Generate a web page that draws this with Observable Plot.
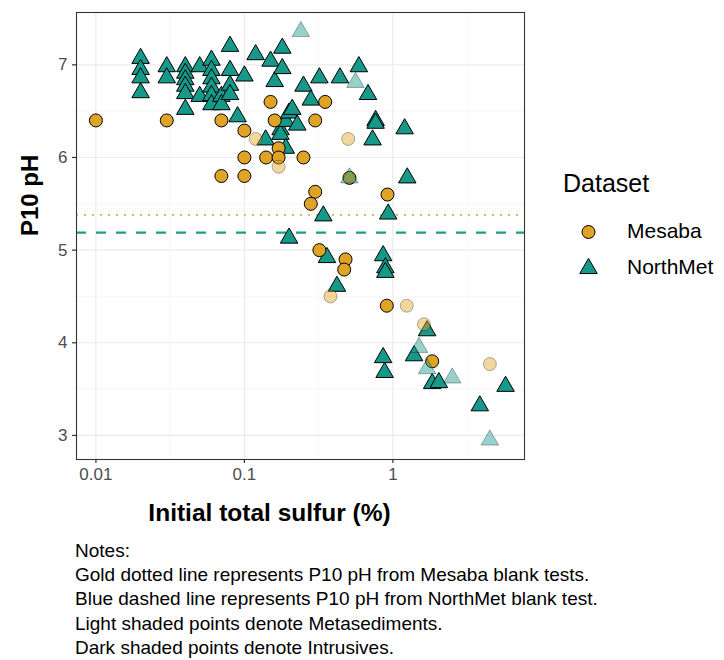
<!DOCTYPE html>
<html>
<head>
<meta charset="utf-8">
<script src="https://cdn.jsdelivr.net/npm/d3@7"></script>
<script src="https://cdn.jsdelivr.net/npm/@observablehq/plot@0.6"></script>
<style>
  html, body { margin: 0; padding: 0; background: #fff; }
  body { font-family: "Liberation Sans", Arial, sans-serif; }
  #wrap { position: relative; width: 724px; height: 660px; overflow: hidden; }
  #chart { position: absolute; left: 0; top: 0; }
  #legend { position: absolute; left: 560px; top: 165px; width: 164px; height: 130px; }
  #notes { position: absolute; left: 75px; top: 539px; font-size: 19px; line-height: 24.2px; color: #000; white-space: nowrap; }
</style>
</head>
<body>
<div id="wrap">
  <div id="chart"></div>
  <div id="legend"></div>
  <div id="notes"></div>
</div>
<script>
// ---- Data ----
const mesabaSulfur = [0.01, 0.03, 0.07, 0.10, 0.15, 0.16, 0.30, 0.35, 0.119, 0.17, 0.10, 0.14, 0.17, 0.25, 0.17, 0.07, 0.10, 0.50, 0.30, 0.28, 0.92, 0.51, 0.32, 0.48, 0.47, 0.38, 0.91, 1.24, 1.62, 1.84, 4.50];
const mesabaPH     = [6.40, 6.40, 6.40, 6.29, 6.60, 6.40, 6.40, 6.60, 6.20, 6.10, 6.00, 6.00, 6.00, 6.00, 5.90, 5.80, 5.80, 6.20, 5.63, 5.50, 5.60, 5.78, 5.00, 4.90, 4.79, 4.50, 4.40, 4.40, 4.20, 3.80, 3.77];
const mesabaRock   = ["I","I","I","I","I","I","I","I","M","I","I","I","I","I","M","I","I","M","I","I","I","I","I","I","I","M","I","M","M","I","M"];

const northSulfur = [0.02, 0.02, 0.02, 0.02, 0.03, 0.03, 0.04, 0.04, 0.04, 0.04, 0.04, 0.04, 0.05, 0.05,
  0.06, 0.06, 0.06, 0.06, 0.06, 0.06, 0.07, 0.07, 0.08, 0.08, 0.08, 0.08, 0.09, 0.10, 0.119, 0.139, 0.15, 0.16,
  0.175, 0.175, 0.18, 0.18, 0.19, 0.19, 0.20, 0.20, 0.21, 0.227, 0.24, 0.25, 0.28, 0.32, 0.34, 0.36, 0.42, 0.44,
  0.51, 0.56, 0.59, 0.68, 0.73, 0.765, 0.765, 0.86, 0.86, 0.89, 0.89, 0.88, 0.93, 1.2, 1.25, 1.39, 1.5, 1.7, 1.7,
  1.84, 2.04, 2.51, 3.85, 4.5, 5.74];
const northPH = [7.07, 6.95, 6.86, 6.70, 6.98, 6.86, 6.98, 6.91, 6.84, 6.77, 6.69, 6.52, 6.98, 6.66,
  7.05, 6.94, 6.85, 6.76, 6.67, 6.57, 6.66, 6.57, 7.20, 6.94, 6.78, 6.68, 6.44, 6.88, 7.11, 6.19, 7.04, 6.82,
  6.30, 6.25, 7.18, 6.96, 6.39, 6.10, 6.48, 5.13, 6.52, 6.35, 7.36, 6.77, 6.62, 6.86, 5.37, 4.92, 4.61, 6.86,
  5.78, 6.81, 6.98, 6.68, 6.19, 6.40, 6.37, 4.94, 3.84, 4.81, 4.76, 3.68, 5.39, 6.31, 5.78, 3.86, 3.95, 4.13, 3.72,
  3.56, 3.57, 3.62, 3.32, 2.95, 3.53];
const northRock = ["I","I","I","I","I","I","I","I","I","I","I","I","I","I",
  "I","I","I","I","I","I","I","I","I","I","I","I","I","I","I","I","I","I",
  "I","I","I","I","I","I","I","I","I","I","M","I","I","I","I","I","I","I",
  "M","M","I","I","I","I","I","I","I","I","I","I","I","I","I","I","M","I","M",
  "I","I","M","I","M","I"];

const mesabaBlankPH = 5.38;
const northBlankPH = 5.19;

const xTicks = [0.01, 0.1, 1];
const xTickLabels = ["0.01", "0.1", "1"];
const xMinor = [0.0316, 0.316, 3.16];
const yTicks = [3, 4, 5, 6, 7];
const yTickLabels = ["3", "4", "5", "6", "7"];
const yMinor = [3.5, 4.5, 5.5, 6.5];

const datasetNames = ["Mesaba", "NorthMet"];
const xTitle = "Initial total sulfur (%)";
const yTitle = "P10 pH";
const legendTitle = "Dataset";
const notes = [
  "Notes:",
  "Gold dotted line represents P10 pH from Mesaba blank tests.",
  "Blue dashed line represents P10 pH from NorthMet blank test.",
  "Light shaded points denote Metasediments.",
  "Dark shaded points denote Intrusives."
];

// ---- Styles ----
const GOLD = "#DFA426";
const TEAL = "#17998A";
const GOLD_LINE = "#D9B444";
const TEAL_LINE = "#1E9E86";
const R = 6.5;

const rows = [];
mesabaSulfur.forEach((s, i) => rows.push({dataset: "Mesaba", s, ph: mesabaPH[i], rock: mesabaRock[i]}));
northSulfur.forEach((s, i) => rows.push({dataset: "NorthMet", s, ph: northPH[i], rock: northRock[i]}));
const pick = (ds, rock) => rows.filter(d => d.dataset === ds && d.rock === rock);

const plot = Plot.plot({
  width: 724,
  height: 530,
  marginLeft: 76,
  marginRight: 200,
  marginTop: 12,
  marginBottom: 71,
  style: {fontFamily: "'Liberation Sans', Arial, sans-serif", background: "#fff"},
  x: {type: "log", domain: [0.0074, 7.7]},
  y: {domain: [2.74, 7.565]},
  marks: [
    Plot.ruleX(xMinor, {stroke: "#f3f3f3", strokeWidth: 0.7}),
    Plot.ruleY(yMinor, {stroke: "#f3f3f3", strokeWidth: 0.7}),
    Plot.ruleX(xTicks, {stroke: "#ebebeb", strokeWidth: 1.2}),
    Plot.ruleY(yTicks, {stroke: "#ebebeb", strokeWidth: 1.2}),
    Plot.ruleY([mesabaBlankPH], {stroke: GOLD_LINE, strokeWidth: 1.8, strokeDasharray: "2,6"}),
    Plot.ruleY([northBlankPH], {stroke: TEAL_LINE, strokeWidth: 2.2, strokeDasharray: "10,10"}),
    Plot.dot(pick("NorthMet", "I"), {x: "s", y: "ph", symbol: "triangle", r: R, fill: TEAL, stroke: "#000", strokeWidth: 1}),
    Plot.dot(pick("Mesaba", "I"), {x: "s", y: "ph", symbol: "circle", r: R, fill: GOLD, stroke: "#000", strokeWidth: 1}),
    Plot.dot(pick("Mesaba", "M"), {x: "s", y: "ph", symbol: "circle", r: R, fill: GOLD, fillOpacity: 0.45, stroke: "#000", strokeOpacity: 0.3, strokeWidth: 1}),
    Plot.dot(pick("NorthMet", "M"), {x: "s", y: "ph", symbol: "triangle", r: R, fill: TEAL, fillOpacity: 0.45, stroke: "#000", strokeOpacity: 0.3, strokeWidth: 1}),
    Plot.frame({stroke: "#333", strokeWidth: 1.1}),
    Plot.axisX({ticks: xTicks, tickFormat: d => xTickLabels[xTicks.indexOf(d)], tickSize: 4, tickPadding: 4, fontSize: 17, fill: "#4d4d4d", stroke: "#333", strokeWidth: 1.2, label: null}),
    Plot.axisY({ticks: yTicks, tickFormat: d => yTickLabels[yTicks.indexOf(d)], tickSize: 4, tickPadding: 5, fontSize: 17, fill: "#4d4d4d", stroke: "#333", strokeWidth: 1.2, label: null}),
    Plot.text([xTitle], {text: d => d, frameAnchor: "bottom", dx: -31, dy: 54, fontSize: 24.5, fontWeight: "bold", fill: "#000", lineAnchor: "middle"}),
    Plot.text([yTitle], {text: d => d, frameAnchor: "left", dx: -46, rotate: -90, fontSize: 24, fontWeight: "bold", fill: "#000", lineAnchor: "middle"})
  ]
});
document.getElementById("chart").appendChild(plot);

// ---- Legend ----
const lg = d3.select("#legend").append("svg").attr("width", 164).attr("height", 130)
  .style("font-family", "'Liberation Sans', Arial, sans-serif");
lg.append("text").attr("x", 3).attr("y", 20).attr("dominant-baseline", "middle")
  .attr("font-size", 25).attr("fill", "#000").text(legendTitle);
const symPath = {
  Mesaba: d3.symbol(d3.symbolCircle, Math.PI * R * R)(),
  NorthMet: d3.symbol(d3.symbolTriangle, Math.PI * R * R)()
};
datasetNames.forEach((name, i) => {
  const cy = 67 + i * 36.5;
  lg.append("path").attr("d", symPath[name]).attr("transform", `translate(28.5,${cy})`)
    .attr("fill", name === "Mesaba" ? GOLD : TEAL).attr("stroke", "#000").attr("stroke-width", 1);
  lg.append("text").attr("x", 67).attr("y", cy).attr("dominant-baseline", "middle")
    .attr("font-size", 21).attr("fill", "#000").text(name);
});

// ---- Notes ----
const notesDiv = document.getElementById("notes");
notes.forEach(t => { const d = document.createElement("div"); d.textContent = t; notesDiv.appendChild(d); });
</script>
</body>
</html>
